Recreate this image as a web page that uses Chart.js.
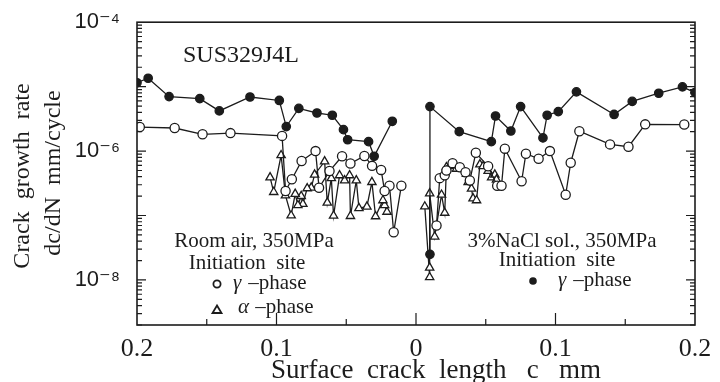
<!DOCTYPE html>
<html>
<head>
<meta charset="utf-8">
<script src="https://cdn.jsdelivr.net/npm/chart.js@4.4.1/dist/chart.umd.min.js"></script>
<style>
  html, body { margin: 0; padding: 0; background: #fff; }
</style>
</head>
<body>
<canvas id="crack" width="720" height="382"></canvas>
<script>
// left branch is plotted at negative x (axis labels show |c|)
const filledLeftC = [-0.2, -0.192, -0.177, -0.155, -0.141, -0.119, -0.098, -0.093, -0.084, -0.071, -0.060, -0.052, -0.049, -0.034, -0.030, -0.017]
const filledLeftRate = [1.15e-5, 1.35e-5, 7.0e-6, 6.5e-6, 4.2e-6, 6.9e-6, 6.1e-6, 2.4e-6, 4.6e-6, 3.9e-6, 3.6e-6, 2.15e-6, 1.5e-6, 1.4e-6, 8.3e-7, 2.9e-6]

const filledRightC = [0.010, 0.010, 0.031, 0.054, 0.057, 0.068, 0.075, 0.091, 0.094, 0.102, 0.115, 0.142, 0.155, 0.174, 0.191, 0.2]
const filledRightRate = [2.5e-8, 4.9e-6, 2.0e-6, 1.4e-6, 3.5e-6, 2.05e-6, 4.9e-6, 1.6e-6, 3.6e-6, 4.1e-6, 8.3e-6, 3.7e-6, 5.9e-6, 7.9e-6, 9.9e-6, 8.1e-6]

const openLeftC = [-0.0105, -0.016, -0.019, -0.0225, -0.025, -0.0315, -0.037, -0.047, -0.053, -0.062, -0.0695, -0.072, -0.082, -0.089, -0.0935, -0.096, -0.133, -0.153, -0.173, -0.198]
const openLeftRate = [2.9e-7, 5.5e-8, 2.9e-7, 2.4e-7, 5.1e-7, 5.9e-7, 8.4e-7, 6.4e-7, 8.3e-7, 4.9e-7, 2.7e-7, 1.0e-6, 7.0e-7, 3.65e-7, 2.4e-7, 1.72e-6, 1.9e-6, 1.82e-6, 2.28e-6, 2.36e-6]

const openRightC = [0.0147, 0.017, 0.0206, 0.0218, 0.0262, 0.0314, 0.0355, 0.0386, 0.0429, 0.0517, 0.0582, 0.0613, 0.0637, 0.0757, 0.0788, 0.0879, 0.096, 0.1073, 0.1109, 0.1171, 0.1391, 0.1523, 0.1643, 0.1923]
const openRightRate = [7.0e-8, 3.8e-7, 4.2e-7, 5.0e-7, 6.5e-7, 5.6e-7, 4.7e-7, 3.5e-7, 9.4e-7, 5.8e-7, 2.9e-7, 2.9e-7, 1.09e-6, 3.4e-7, 9.1e-7, 7.6e-7, 1.0e-6, 2.1e-7, 6.6e-7, 2.03e-6, 1.27e-6, 1.17e-6, 2.6e-6, 2.58e-6]

const triLeftC = [-0.0208, -0.0225, -0.0237, -0.029, -0.0316, -0.0352, -0.0409, -0.0428, -0.047, -0.0476, -0.0512, -0.0548, -0.0591, -0.0607, -0.0636, -0.0655, -0.0727, -0.0751, -0.078, -0.0811, -0.0823, -0.0847, -0.0866, -0.0895, -0.0936, -0.0967, -0.102, -0.1046]
const triLeftRate = [1.14e-7, 1.44e-7, 1.72e-7, 9.7e-8, 3.3e-7, 1.37e-7, 1.3e-7, 3.5e-7, 9.8e-8, 4.2e-7, 3.5e-7, 4.2e-7, 9.9e-8, 3.8e-7, 1.58e-7, 6.9e-7, 4.3e-7, 2.7e-7, 2.64e-7, 1.51e-7, 2.0e-7, 1.44e-7, 2.16e-7, 1.0e-7, 2.05e-7, 8.6e-7, 2.31e-7, 3.9e-7]

const triRightC = [0.0063, 0.0098, 0.0098, 0.0098, 0.0134, 0.0183, 0.0206, 0.0218, 0.0242, 0.029, 0.0326, 0.0362, 0.0374, 0.0398, 0.0409, 0.0434, 0.0458, 0.0481, 0.0517, 0.0542, 0.0565, 0.0577]
const triRightRate = [1.38e-7, 1.1e-8, 1.55e-8, 2.2e-7, 4.7e-8, 2.1e-7, 1.1e-7, 5.6e-7, 5.9e-7, 5.3e-7, 5.3e-7, 4.4e-7, 3.3e-7, 2.6e-7, 1.84e-7, 1.72e-7, 6.2e-7, 5.8e-7, 4.9e-7, 3.9e-7, 4.3e-7, 3.6e-7]

const xTickValues = [-0.2, -0.1, 0, 0.1, 0.2]
const xTickMarks = [-0.15, -0.1, -0.05, 0, 0.05, 0.1, 0.15]
const yTickValues = [1e-8, 1e-6, 1e-4]
const yTickLabels = ['10\u207B\u2078', '10\u207B\u2076', '10\u207B\u2074']
const yMin = 2e-9
const yMax = 1e-4

const ink = '#1c1c1c'
const serif = '"Liberation Serif", "DejaVu Serif", serif'

function pts(xs, ys) {
    return xs.map((x, i) => ({x: x, y: ys[i]}))
}

function series(xs, ys, style, filled, r) {
    return {
        data: pts(xs, ys),
        borderColor: ink,
        borderWidth: 1.3,
        pointStyle: style,
        pointRadius: r,
        pointBorderWidth: 1.3,
        pointBackgroundColor: filled ? ink : '#fff',
        pointBorderColor: ink,
        fill: false,
        tension: 0
    }
}

function txt(ctx, s, x, y, size, align, italic) {
    ctx.font = (italic ? 'italic ' : '') + size + 'px ' + serif
    ctx.textAlign = align || 'left'
    ctx.fillText(s, x, y)
}

const decor = {
    id: 'decor',
    afterDraw(chart) {
        const ctx = chart.ctx
        const a = chart.chartArea
        const x = chart.scales.x
        const y = chart.scales.y
        ctx.save()
        ctx.strokeStyle = ink
        ctx.fillStyle = ink
        ctx.lineWidth = 1.6
        ctx.strokeRect(a.left, a.top, a.right - a.left, a.bottom - a.top)

        // inward ticks on left and right
        ctx.lineWidth = 1.2
        ctx.beginPath()
        for (let e = -9; e <= -5; e++) {
            for (let m = 1; m <= 9; m++) {
                const v = m * Math.pow(10, e)
                if (v < yMin || v > yMax) continue
                const py = y.getPixelForValue(v)
                const len = m === 1 ? 9 : 5
                ctx.moveTo(a.left, py); ctx.lineTo(a.left + len, py)
                ctx.moveTo(a.right, py); ctx.lineTo(a.right - len, py)
            }
        }
        xTickMarks.forEach(v => {
            const px = x.getPixelForValue(v)
            const len = (Math.abs(v) < 1e-9 || Math.abs(Math.abs(v) - 0.1) < 1e-9) ? 12 : 6
            ctx.moveTo(px, a.bottom); ctx.lineTo(px, a.bottom - len)
        })
        ctx.stroke()

        // axis titles
        ctx.textBaseline = 'alphabetic'
        txt(ctx, 'Surface  crack  length   c   mm', 436, 378, 27, 'center')
        ctx.save()
        ctx.translate(29, 176)
        ctx.rotate(-Math.PI / 2)
        txt(ctx, 'Crack  growth  rate', 0, 0, 24, 'center')
        ctx.restore()
        ctx.save()
        ctx.translate(60, 173)
        ctx.rotate(-Math.PI / 2)
        txt(ctx, 'dc/dN  mm/cycle', 0, 0, 24, 'center')
        ctx.restore()

        // annotations
        txt(ctx, 'SUS329J4L', 183, 62, 24)
        txt(ctx, 'Room air, 350MPa', 254, 247, 21, 'center')
        txt(ctx, 'Initiation  site', 247, 269, 21, 'center')
        txt(ctx, '\u03B3', 233, 289, 21, 'left', true)
        txt(ctx, ' \u2013phase', 243, 289, 21)
        txt(ctx, '\u03B1', 238, 313, 21, 'left', true)
        txt(ctx, ' \u2013phase', 250, 313, 21)
        txt(ctx, '3%NaCl sol., 350MPa', 562, 247, 21, 'center')
        txt(ctx, 'Initiation  site', 557, 266, 21, 'center')
        txt(ctx, '\u03B3', 558, 286, 21, 'left', true)
        txt(ctx, ' \u2013phase', 568, 286, 21)

        // legend symbols
        ctx.lineWidth = 1.8
        ctx.beginPath(); ctx.arc(217, 284, 3.6, 0, Math.PI * 2); ctx.stroke()
        ctx.beginPath()
        ctx.moveTo(217, 305.5); ctx.lineTo(221.5, 313); ctx.lineTo(212.5, 313); ctx.closePath()
        ctx.stroke()
        ctx.beginPath(); ctx.arc(533, 281, 3.8, 0, Math.PI * 2); ctx.fill()
        ctx.restore()
    }
}

new Chart(document.getElementById('crack'), {
    type: 'line',
    data: {
        datasets: [
            series(filledLeftC, filledLeftRate, 'circle', true, 4.2),
            series(filledRightC, filledRightRate, 'circle', true, 4.2),
            series(openLeftC, openLeftRate, 'circle', false, 4.6),
            series(openRightC, openRightRate, 'circle', false, 4.6),
            series(triLeftC, triLeftRate, 'triangle', false, 4.8),
            series(triRightC, triRightRate, 'triangle', false, 4.8)
        ]
    },
    options: {
        responsive: false,
        animation: false,
        layout: { padding: { left: 0, right: 25, top: 18, bottom: 0 } },
        plugins: {
            legend: { display: false },
            tooltip: { enabled: false }
        },
        scales: {
            x: {
                type: 'linear',
                min: -0.2,
                max: 0.2,
                grid: { display: false },
                border: { display: false },
                afterBuildTicks: s => { s.ticks = xTickValues.map(v => ({value: v})) },
                afterFit: s => { s.height = 57 },
                ticks: {
                    color: ink,
                    padding: 1,
                    maxRotation: 0,
                    font: { family: serif, size: 26 },
                    callback: v => Math.abs(v) < 1e-9 ? '0' : Math.abs(v).toFixed(1)
                }
            },
            y: {
                type: 'logarithmic',
                min: yMin,
                max: yMax,
                grid: { display: false },
                border: { display: false },
                afterBuildTicks: s => { s.ticks = yTickValues.map(v => ({value: v})) },
                afterFit: s => { s.width = 137 },
                ticks: {
                    color: ink,
                    padding: 9,
                    font: { family: '"Liberation Sans", "DejaVu Sans", sans-serif', size: 22 },
                    callback: v => {
                        const i = yTickValues.indexOf(v)
                        return i >= 0 ? yTickLabels[i] : ''
                    }
                }
            }
        }
    },
    plugins: [decor]
})
</script>
</body>
</html>
